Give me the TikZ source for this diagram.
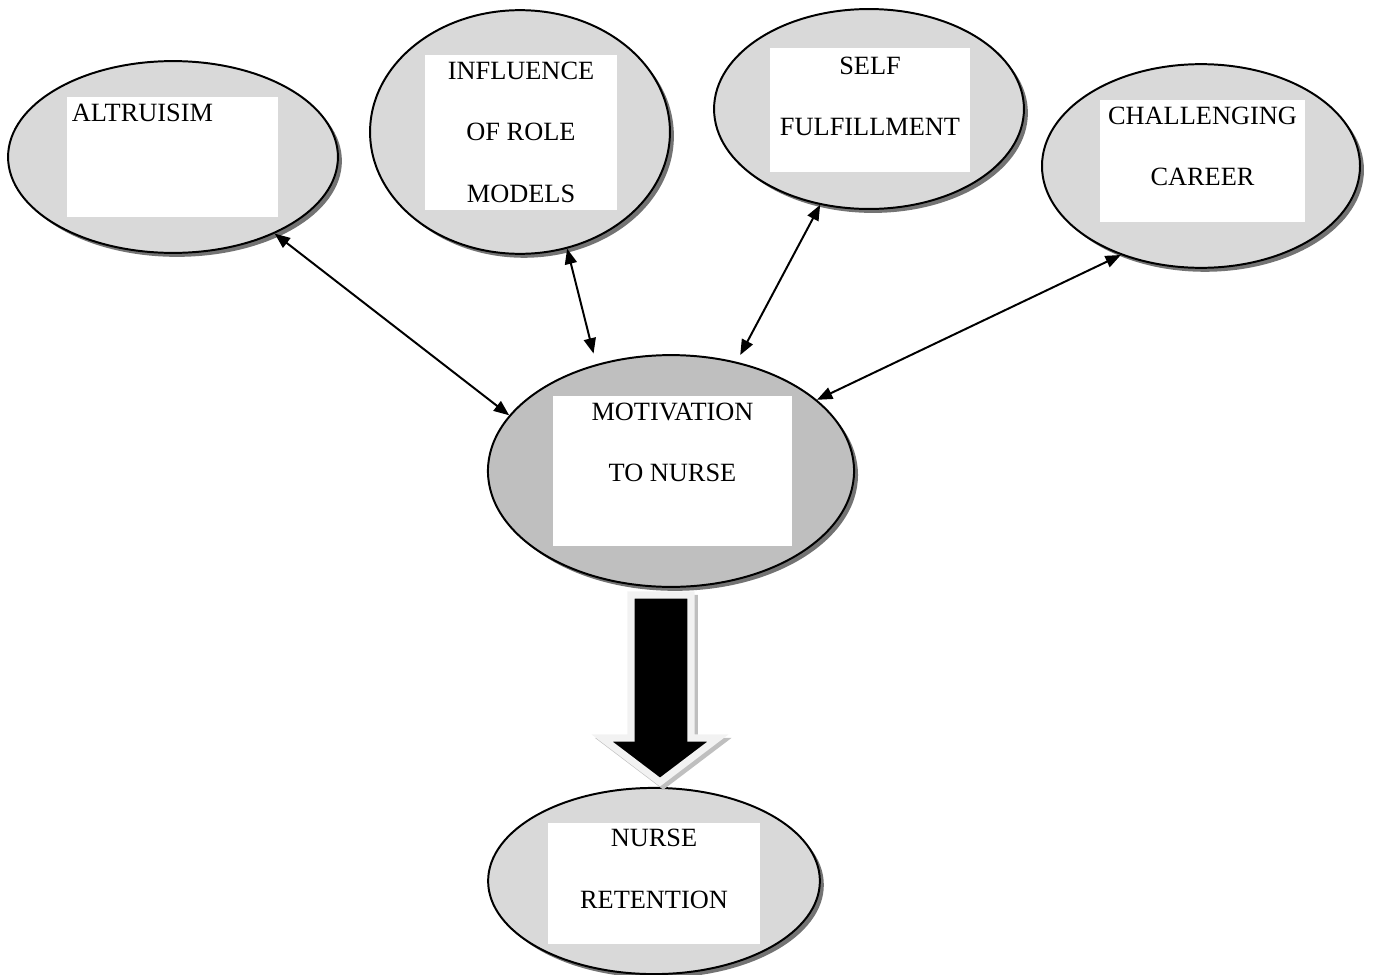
\documentclass[tikz,border=0pt]{standalone}
\usepackage{fontspec}
\setmainfont{Liberation Serif}
\usetikzlibrary{arrows.meta,shapes.geometric,shadows}
\definecolor{bubble}{HTML}{D9D9D9}
\definecolor{core}{HTML}{BFBFBF}
\definecolor{rim}{HTML}{F2F2F2}

\begin{document}
\begin{tikzpicture}[x=0.016cm,y=-0.016cm,
  bubble/.style={ellipse,draw,line width=0.9pt,fill=bubble,
    drop shadow={shadow xshift=1.8pt,shadow yshift=-1.8pt,fill=black!55,opacity=1}},
  card/.style={rectangle,fill=white,inner sep=0pt},
  caption/.style={anchor=north,inner sep=0pt,align=center,
    font=\fontsize{12}{28}\selectfont,yshift=-3pt},
  link/.style={<->,line width=0.9pt,>={Triangle[length=7pt,width=5.5pt]}}]
\useasboundingbox (0,0) rectangle (1373,975);

% the ellipses
\node[bubble,minimum width=5.28cm,minimum height=3.07cm] (altruism) at (173,157) {};
\node[bubble,minimum width=4.8cm,minimum height=3.9cm] (influence) at (520,132) {};
\node[bubble,minimum width=4.96cm,minimum height=3.2cm] (self) at (869,109) {};
\node[bubble,minimum width=5.09cm,minimum height=3.26cm] (challenge) at (1201,166) {};
\node[bubble,fill=core,minimum width=5.86cm,minimum height=3.71cm] (motivation) at (671,471) {};
\node[bubble,minimum width=5.31cm,minimum height=2.98cm] (retention) at (654,881) {};

% white boxes with the texts
\node[card,minimum width=3.38cm,minimum height=1.92cm] (altruism-card) at (172.5,157) {};
\node[caption,anchor=north west,xshift=2.3pt] (altruism-text) at (altruism-card.north west) {ALTRUISIM};
\node[card,minimum width=3.07cm,minimum height=2.48cm] (influence-card) at (521,132.5) {};
\node[caption] (influence-text) at (influence-card.north) {INFLUENCE\\OF ROLE\\MODELS};
\node[card,minimum width=3.2cm,minimum height=1.98cm] (self-card) at (870,110) {};
\node[caption,yshift=-1pt] (self-text) at (self-card.north) {SELF\\FULFILLMENT};
\node[card,minimum width=3.28cm,minimum height=1.95cm] (challenge-card) at (1202.5,161) {};
\node[caption] (challenge-text) at (challenge-card.north) {CHALLENGING\\CAREER};
\node[card,minimum width=3.82cm,minimum height=2.4cm] (motivation-card) at (672.5,471) {};
\node[caption] (motivation-text) at (motivation-card.north) {MOTIVATION\\TO NURSE};
\node[card,minimum width=3.39cm,minimum height=1.94cm] (retention-card) at (654,883.5) {};
\node[caption] (retention-text) at (retention-card.north) {NURSE\\RETENTION};

% links to the centre
\draw[link] (altruism.-37.2) -- (motivation.161.25);
\draw[link,shorten >=5pt] (influence.-68.2) -- (motivation.125.2);
\draw[link,shorten >=3.5pt] (self.243.9) -- (motivation.59);
\draw[link] (challenge.228.4) -- (motivation.26.1);

% big arrow down to retention
\draw[fill=black!25,draw=black!25,line width=3.2pt,xshift=1.5pt,yshift=-1.5pt]
  (631,595) -- (691,595) -- (691,738) -- (718,738) -- (660,782)
  -- (602,738) -- (631,738) -- cycle;
\draw[fill=black,draw=rim,line width=3.2pt]
  (631,595) -- (691,595) -- (691,738) -- (718,738) -- (660,782)
  -- (602,738) -- (631,738) -- cycle;
\end{tikzpicture}
\end{document}
